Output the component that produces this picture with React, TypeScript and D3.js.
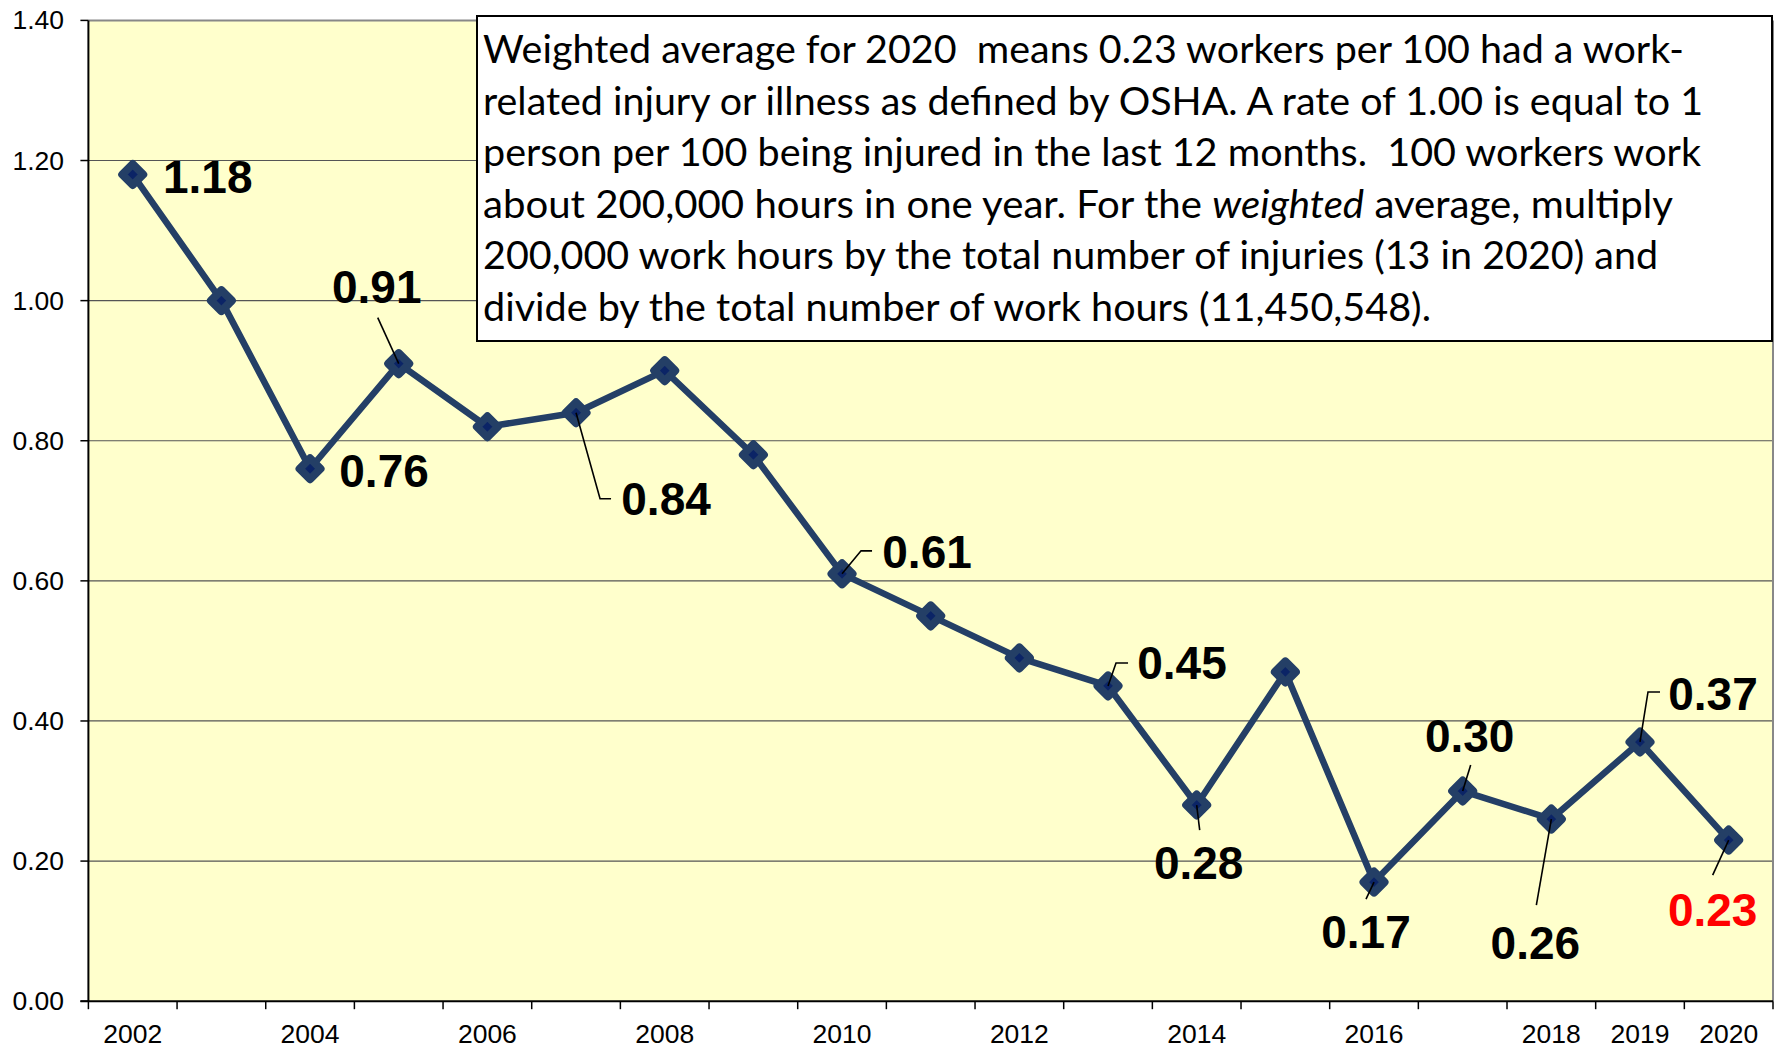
import React from 'react';
import * as d3 from 'd3';

// injury rate per 100 workers, by year
const years = [2002, 2003, 2004, 2005, 2006, 2007, 2008, 2009, 2010, 2011, 2012, 2013, 2014, 2015, 2016, 2017, 2018, 2019, 2020];
const rates = [1.18, 1.0, 0.76, 0.91, 0.82, 0.84, 0.9, 0.78, 0.61, 0.55, 0.49, 0.45, 0.28, 0.47, 0.17, 0.3, 0.26, 0.37, 0.23];
const labeledYears = [2002, 2004, 2006, 2008, 2010, 2012, 2014, 2016, 2018, 2019, 2020];
const yTicks = [0, 0.2, 0.4, 0.6, 0.8, 1.0, 1.2, 1.4];

// which points carry a data label
const labeledPoints = [2002, 2004, 2005, 2007, 2010, 2013, 2014, 2016, 2017, 2018, 2019, 2020];

const noteLines = [
  ['Weighted average for 2020  means 0.23 workers per 100 had a work-'],
  ['related injury or illness as defined by OSHA. A rate of 1.00 is equal to 1'],
  ['person per 100 being injured in the last 12 months.  100 workers work'],
  ['about 200,000 hours in one year. For the ', 'weighted', ' average, multiply'],
  ['200,000 work hours by the total number of injuries (13 in 2020) and'],
  ['divide by the total number of work hours (11,450,548).'],
];
// rendered width of each note line (Calibri in the original)
const noteWidths = [1201, 1220, 1218, 1190, 1175, 948];

// label placement relative to its point: dx, dy of label centre, leader polyline
const labelStyle: Record<number, { dx: number; dy: number; leader?: [number, number][]; color?: string }> = {
  2002: { dx: 75, dy: 2 },
  2004: { dx: 74, dy: 2 },
  2005: { dx: -22, dy: -77, leader: [[0, 0], [-21, -46]] },
  2007: { dx: 90, dy: 86, leader: [[0, 0], [24, 86], [35, 86]] },
  2010: { dx: 85, dy: -22, leader: [[0, 0], [19, -23], [30, -23]] },
  2013: { dx: 74, dy: -23, leader: [[0, 0], [8, -23], [20, -23]] },
  2014: { dx: 2, dy: 57, leader: [[0, 0], [3, 25]] },
  2016: { dx: -8, dy: 49, leader: [[0, 0], [-8, 17]] },
  2017: { dx: 7, dy: -56, leader: [[0, 0], [8, -26]] },
  2018: { dx: -16, dy: 123, leader: [[0, 0], [-15, 86]] },
  2019: { dx: 73, dy: -48, leader: [[0, 0], [8, -50], [20, -50]] },
  2020: { dx: -16, dy: 69, leader: [[0, 0], [-16, 35]], color: '#FF0000' },
};

const W = 1778;
const H = 1047;
const left = 88.4;
const right = 1773;
const top = 20.4;
const bottom = 1001.2;

export default function App() {
  const x = d3.scaleBand<number>().domain(years).range([left, right]).padding(0);
  const y = d3.scaleLinear().domain([0, 1.4]).range([bottom, top]);
  const cx = (yr: number) => (x(yr) ?? 0) + x.bandwidth() / 2;
  const pts = years.map((yr, i) => ({ yr, v: rates[i] }));
  const line = d3.line<{ yr: number; v: number }>().x(d => cx(d.yr)).y(d => y(d.v));
  const fmt = d3.format('.2f');
  const r = 10.5;
  const diamond = `M0,${-r}L${r},0L0,${r}L${-r},0Z`;
  const boundaries = years.map(yr => x(yr) ?? 0).concat([right]);

  return (
    <svg width={W} height={H} style={{ position: 'absolute', left: 0, top: 0, background: '#fff' }}
      fontFamily="'Liberation Sans', Arial, sans-serif">
      <rect x={left} y={top} width={right - left} height={bottom - top} fill="#FFFFCC" />
      {yTicks.slice(1, -1).map(t => (
        <line key={t} x1={left} x2={right} y1={y(t)} y2={y(t)} stroke="#555" strokeWidth={1.2} />
      ))}
      <line x1={left} x2={right} y1={top} y2={top} stroke="#888" strokeWidth={2} />
      <line x1={right} x2={right} y1={top} y2={bottom} stroke="#888" strokeWidth={2} />
      <line x1={left} x2={left} y1={top} y2={bottom} stroke="#000" strokeWidth={2} />
      <line x1={left - 8} x2={right} y1={bottom} y2={bottom} stroke="#000" strokeWidth={2} />
      {yTicks.map(t => (
        <g key={t}>
          <line x1={left - 8} x2={left} y1={y(t)} y2={y(t)} stroke="#000" strokeWidth={1.5} />
          <text x={64} y={y(t) + 9} textAnchor="end" fontSize={26.5} fill="#000">{fmt(t)}</text>
        </g>
      ))}
      {boundaries.map((b, i) => (
        <line key={i} x1={b} x2={b} y1={bottom} y2={bottom + 8} stroke="#000" strokeWidth={1.5} />
      ))}
      {labeledYears.map(yr => (
        <text key={yr} x={cx(yr)} y={1043} textAnchor="middle" fontSize={26.5} fill="#000">{yr}</text>
      ))}

      <path d={line(pts) ?? ''} fill="none" stroke="#243F66" strokeWidth={6.5} strokeLinejoin="round" />
      {pts.map(p => (
        <path key={p.yr} d={diamond} transform={`translate(${cx(p.yr)},${y(p.v)})`}
          fill="#0B2466" stroke="#243F66" strokeWidth={8} strokeLinejoin="round" />
      ))}

      {labeledPoints.map(yr => {
        const v = rates[years.indexOf(yr)];
        const s = labelStyle[yr];
        const px = cx(yr);
        const py = y(v);
        return (
          <g key={yr}>
            {s.leader && (
              <polyline points={s.leader.map(([a, b]) => `${px + a},${py + b}`).join(' ')}
                fill="none" stroke="#000" strokeWidth={1.6} />
            )}
            <text x={px + s.dx} y={py + s.dy + 16.5} textAnchor="middle" fontSize={46} fontWeight="bold"
              fill={s.color ?? '#000'}>{fmt(v)}</text>
          </g>
        );
      })}

      <rect x={477} y={16} width={1295} height={325} fill="#fff" stroke="#000" strokeWidth={2} />
      {noteLines.map((parts, i) => (
        <text key={i} x={483} y={63 + i * 51.6} fontSize={38} fill="#000"
          fontFamily="Lato, 'Open Sans', sans-serif" style={{ whiteSpace: 'pre' }}
          textLength={noteWidths[i]} lengthAdjust="spacingAndGlyphs">
          {parts.map((p, j) => (
            <tspan key={j} fontStyle={parts.length > 1 && j === 1 ? 'italic' : 'normal'}>{p}</tspan>
          ))}
        </text>
      ))}
    </svg>
  );
}
